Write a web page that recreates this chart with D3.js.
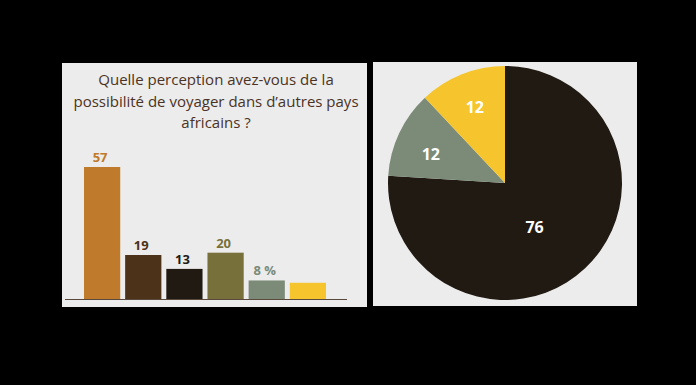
<html>
<head>
<script src="https://cdn.jsdelivr.net/npm/d3@7"></script>
<style>
  body { margin: 0; background: #000; }
  text { font-family: "Open Sans", "Noto Sans", sans-serif; }
</style>
</head>
<body>
<svg id="chart" width="696" height="385"></svg>
<script>
// bar chart data
var barValues = [57, 19, 13, 20, 8, 7];
var barLabels = ["57", "19", "13", "20", "8 %", ""];
var barColors = ["#c07a2b", "#4b3218", "#201a12", "#78703b", "#7c8b78", "#f6c52d"];
var labelColors = ["#c07a2b", "#4b3218", "#201a12", "#78703b", "#7c8b78", "#f6c52d"];
var titleLines = ["Quelle perception avez-vous de la", "possibilité de voyager dans d’autres pays", "africains ?"];

// pie data
var pieValues = [76, 12, 12];
var pieColors = ["#201a12", "#7c8b78", "#f6c52d"];

var svg = d3.select("#chart");
svg.append("rect").attr("width", 696).attr("height", 385).attr("fill", "#000");

// left panel
svg.append("rect").attr("x", 62).attr("y", 63).attr("width", 305).attr("height", 244).attr("fill", "#ececec");

svg.append("g").selectAll("text")
    .data(titleLines)
    .enter()
    .append("text")
    .attr("x", 216)
    .attr("y", (d, i) => 85 + i * 21.5)
    .attr("text-anchor", "middle")
    .attr("font-size", 15)
    .attr("fill", "#4a3324")
    .text(d => d);

var x = d3.scaleBand()
    .domain(d3.range(barValues.length))
    .range([84, 326])
    .paddingInner(0.12)
    .paddingOuter(0);

var y = d3.scaleLinear()
    .domain([0, 57])
    .range([299, 167]);

svg.append("g").selectAll("rect")
    .data(barValues)
    .enter()
    .append("rect")
    .attr("x", (d, i) => x(i))
    .attr("y", d => y(d))
    .attr("width", x.bandwidth())
    .attr("height", d => y(0) - y(d))
    .attr("fill", (d, i) => barColors[i]);

svg.append("g").selectAll("text")
    .data(barValues)
    .enter()
    .append("text")
    .attr("x", (d, i) => x(i) + x.bandwidth() / 2 - 2)
    .attr("y", d => y(d) - 5)
    .attr("text-anchor", "middle")
    .attr("font-size", 13)
    .attr("font-weight", "bold")
    .attr("fill", (d, i) => labelColors[i])
    .text((d, i) => barLabels[i]);

svg.append("line")
    .attr("x1", 65).attr("x2", 347)
    .attr("y1", 299.5).attr("y2", 299.5)
    .attr("stroke", "#5a4a3e")
    .attr("stroke-width", 1);

// right panel
svg.append("rect").attr("x", 373).attr("y", 62).attr("width", 264).attr("height", 244).attr("fill", "#ececec");

var pie = d3.pie().sort(null);
var arcs = pie(pieValues);
var r = 117;
var arc = d3.arc().innerRadius(0).outerRadius(r);

var pg = svg.append("g").attr("transform", "translate(505,183)");
pg.selectAll("path")
    .data(arcs)
    .enter()
    .append("path")
    .attr("d", arc)
    .attr("fill", (d, i) => pieColors[i]);

pg.selectAll("text")
    .data(arcs)
    .enter()
    .append("text")
    .attr("transform", d => {
        var lr = d.data > 50 ? 52 : 82;
        var c = d3.arc().innerRadius(lr).outerRadius(lr).centroid(d);
        if (d.data > 50) { c[0] -= 6; c[1] += 6; }
        else if (d.index == 1) { c[1] += 6; }
        return "translate(" + c[0] + "," + c[1] + ")";
    })
    .attr("text-anchor", "middle")
    .attr("dominant-baseline", "central")
    .attr("font-size", 16)
    .attr("font-weight", "bold")
    .attr("fill", "#fff")
    .text(d => d.data);
</script>
</body>
</html>
